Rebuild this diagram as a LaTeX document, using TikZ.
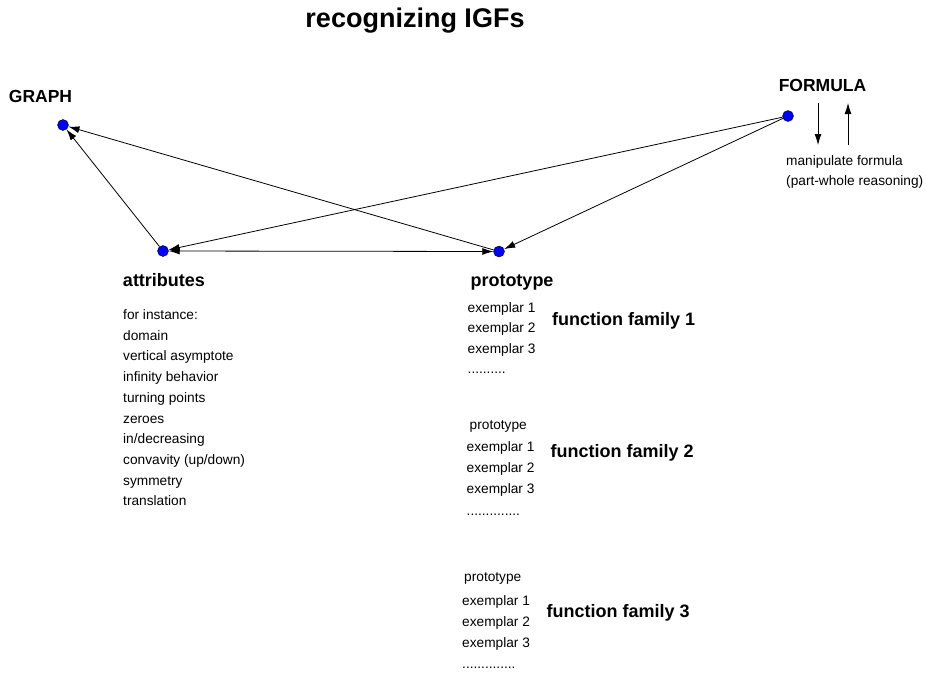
\documentclass[tikz,border=0pt]{standalone}
\usepackage{fontspec}
\setmainfont{Liberation Sans}
\usetikzlibrary{arrows.meta}

\tikzset{
  vertex/.style={circle, draw=black, fill=blue, inner sep=0pt, minimum size=11pt},
  link/.style={line width=0.8pt, -{Latex[length=11pt,width=7pt]}},
  item/.style={anchor=base west, inner sep=0pt, font=\fontsize{13.7}{16}\selectfont},
  head/.style={anchor=base, inner sep=0pt, font=\bfseries\fontsize{18}{21}\selectfont},
}

\begin{document}
\begin{tikzpicture}[x=1pt, y=-1pt]
  \useasboundingbox (0,0) rectangle (926,673);
  \node[head, font=\bfseries\fontsize{27}{30}\selectfont] (title) at (415,27) {recognizing IGFs};

  % the four corners
  \node[vertex] (graph) at (63,125) {};
  \node[vertex] (attr) at (163,251) {};
  \node[vertex] (proto) at (499,251.5) {};
  \node[vertex] (formula) at (788,116) {};
  \node[head, font=\bfseries\fontsize{17.5}{20}\selectfont] (graphlbl) at (40.5,102.5) {GRAPH};
  \node[head, font=\bfseries\fontsize{17.5}{20}\selectfont] (formulalbl) at (822.5,91.5) {FORMULA};
  \node[head] (attrlbl) at (164,286.5) {attributes};
  \node[head] (protolbl) at (512,286) {prototype};

  \draw[link] (attr) -- (graph);
  \draw[link] (proto) -- (graph);
  \draw[link] (formula) -- (attr);
  \draw[link] (formula) -- (proto);
  \draw[link, {Latex[length=11pt,width=7pt]}-{Latex[length=11pt,width=7pt]}] (attr) -- (proto);

  % formula manipulation
  \coordinate (dntop) at (818,103);
  \coordinate (dnbot) at (818,145);
  \coordinate (uptop) at (848,103);
  \coordinate (upbot) at (848,145);
  \draw[link] (dntop) -- (dnbot);
  \draw[link] (upbot) -- (uptop);
  \node[item] (manip) at (786,165.5) {manipulate formula};
  \node[item] (partwhole) at (786,185.5) {(part-whole reasoning)};

  % attributes list
  \foreach \txt [count=\i] in {for instance:, domain, vertical asymptote, infinity behavior,
      turning points, zeroes, in/decreasing, convavity (up/down), symmetry, translation}
    \node[item] (attr\i) at (123,{319.5+(\i-1)*20.7}) {\txt};

  % family 1
  \node[item] (ex11) at (467.5,312) {exemplar 1};
  \node[item] (ex12) at (467.5,332.7) {exemplar 2};
  \node[item] (ex13) at (467.5,353) {exemplar 3};
  \node[item] (dots1) at (467.5,373.5) {..........};
  \node[head, anchor=base west] (fam1) at (552,325) {function family 1};

  % family 2
  \node[item] (proto2) at (469.5,429.5) {prototype};
  \node[item] (ex21) at (466.5,451.5) {exemplar 1};
  \node[item] (ex22) at (466.5,472.5) {exemplar 2};
  \node[item] (ex23) at (466.5,493.5) {exemplar 3};
  \node[item] (dots2) at (466.5,515) {..............};
  \node[head, anchor=base west] (fam2) at (550.5,457.5) {function family 2};

  % family 3
  \node[item] (proto3) at (464,581.5) {prototype};
  \node[item] (ex31) at (462,605.5) {exemplar 1};
  \node[item] (ex32) at (462,626) {exemplar 2};
  \node[item] (ex33) at (462,647) {exemplar 3};
  \node[item] (dots3) at (462,668) {..............};
  \node[head, anchor=base west] (fam3) at (546.5,617) {function family 3};
\end{tikzpicture}
\end{document}
